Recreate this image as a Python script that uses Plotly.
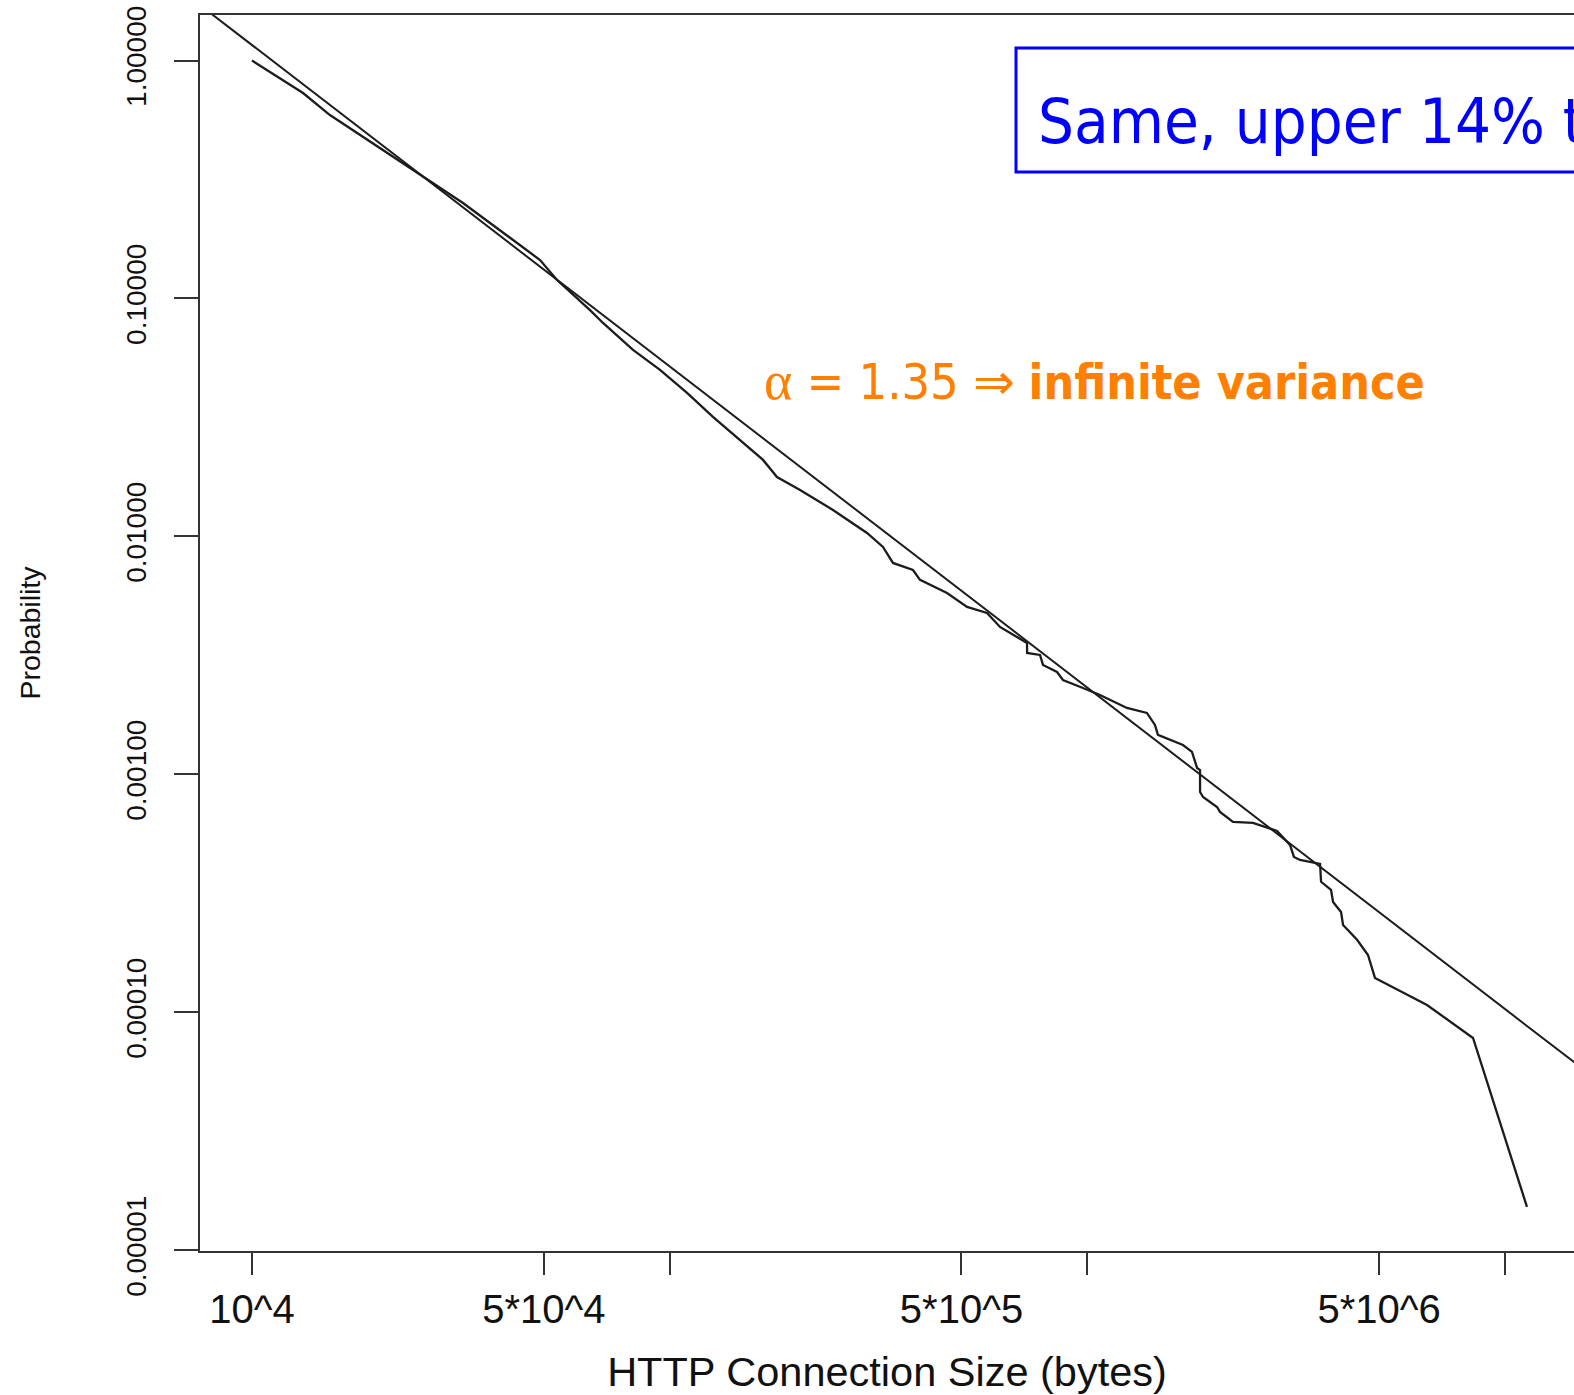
import plotly.graph_objects as go

# Upper tail of HTTP connection sizes: empirical complementary distribution
conn_size_bytes = [
    10000, 11670, 13250, 15370, 18140, 21410, 25680, 32010, 37150, 48950,
    53760, 64480, 69270, 81730, 94850, 110100, 127000, 147500, 167400, 180800,
    205300, 246200, 297000, 324300, 342700, 382600, 397800, 461700, 515600, 575500,
    618300, 717500, 718000, 770900, 783700, 846700, 875000, 977000, 1073000, 1245000,
    1390000, 1453000, 1477000, 1696000, 1782000, 1833000, 1863000, 1863500, 1894000, 2046000,
    2080000, 2234000, 2495000, 2848000, 3059000, 3127000, 3233000, 3611000, 3631000, 3836000,
    3879000, 4054000, 4099000, 4428000, 4703000, 4888000, 6512000, 8393000, 11300000,
]
tail_prob = [
    1.0, 0.844, 0.730, 0.590, 0.486, 0.401, 0.324, 0.252, 0.2076, 0.1451,
    0.1196, 0.0894, 0.0789, 0.0608, 0.0501, 0.0401, 0.0318, 0.0254, 0.02097, 0.01778,
    0.01568, 0.01292, 0.01034, 0.00903, 0.00774, 0.00723, 0.00657, 0.00579, 0.00506, 0.00477,
    0.004166, 0.003568, 0.003239, 0.003177, 0.002885, 0.002696, 0.002495, 0.002309, 0.002158, 0.001903,
    0.001813, 0.001614, 0.001466, 0.001330, 0.001243, 0.001065, 0.001044, 0.000844, 0.000804, 0.000730,
    0.000696, 0.000632, 0.000626, 0.000579, 0.000506, 0.000450, 0.000437, 0.000421, 0.000354, 0.000327,
    0.000291, 0.000264, 0.000233, 0.000202, 0.0001743, 0.0001396, 0.0001075, 0.0000781, 0.00001524,
]

# Fitted Pareto tail  P[X > x] = C * x^(-alpha)
ALPHA = 1.35
FIT_C = 2.917e5
fit_x = [7000, 20000000]
fit_y = [FIT_C * v ** (-ALPHA) for v in fit_x]

x_tick_vals = [1e4, 5e4, 1e5, 5e5, 1e6, 5e6, 1e7]
x_tick_text = ["10^4", "5*10^4", "", "5*10^5", "", "5*10^6", ""]
y_tick_vals = [1, 0.1, 0.01, 0.001, 0.0001, 0.00001]
y_tick_text = ["1.00000", "0.10000", "0.01000", "0.00100", "0.00010", "0.00001"]

W, H = 1574, 1395
ML, MR, MT, MB = 200, 0, 15, 144
PW, PH = W - ML - MR, H - MT - MB


def px_x(p):
    return (p - ML) / PW


def px_y(p):
    return (H - MB - p) / PH


INK = "#1c1c1c"
AXIS = "#333333"
SANS = "Liberation Sans, Arial, sans-serif"

fig = go.Figure()
fig.add_trace(go.Scatter(x=conn_size_bytes, y=tail_prob, mode="lines",
                         line=dict(color=INK, width=2.3), hoverinfo="skip"))
fig.add_trace(go.Scatter(x=fit_x, y=fit_y, mode="lines",
                         line=dict(color=INK, width=2), hoverinfo="skip"))

fig.update_layout(
    width=W, height=H,
    margin=dict(l=ML, r=MR, t=MT, b=MB, pad=0),
    paper_bgcolor="white", plot_bgcolor="white",
    showlegend=False,
)

fig.update_xaxes(
    type="log", range=[3.8755, 7.1657],
    tickvals=x_tick_vals, ticktext=x_tick_text,
    ticks="outside", ticklen=22, tickwidth=2, tickcolor=AXIS,
    showline=True, linecolor=AXIS, linewidth=2, mirror=True,
    showgrid=False, zeroline=False,
    tickfont=dict(family=SANS, size=40, color="#111"),
    title=dict(text="HTTP Connection Size (bytes)",
               font=dict(family=SANS, size=41.5, color="#111"),
               standoff=28),
)
fig.update_yaxes(
    type="log", range=[-5.0025, 0.1912],
    tickvals=y_tick_vals, ticktext=y_tick_text, tickangle=-90,
    ticks="outside", ticklen=24, tickwidth=2, tickcolor=AXIS,
    showline=True, linecolor=AXIS, linewidth=2, mirror=False,
    showgrid=False, zeroline=False,
    ticklabeloverflow="allow", ticklabelstandoff=17,
    tickfont=dict(family=SANS, size=28, color="#111"),
    title=dict(text="Probability",
               font=dict(family=SANS, size=28.5, color="#111"),
               standoff=72),
)

# Blue callout box running off the right edge
fig.add_shape(type="rect", xref="paper", yref="paper",
              x0=px_x(1016), x1=1.3, y0=px_y(172), y1=px_y(48),
              line=dict(color="#0000ff", width=3), fillcolor="rgba(0,0,0,0)")
fig.add_annotation(xref="paper", yref="paper", x=px_x(1036), y=px_y(121),
                   xanchor="left", yanchor="middle", showarrow=False,
                   text="Same, upper 14% tail",
                   font=dict(family="DejaVu Sans Condensed, DejaVu Sans, sans-serif", size=63, color="#0000ff"))

# Tail index note
fig.add_annotation(xref="paper", yref="paper", x=px_x(762), y=px_y(381),
                   xanchor="left", yanchor="middle", showarrow=False,
                   text=("<span style='font-family:Liberation Serif;font-size:54px'>α</span>"
                         "<span style='font-size:50px'> = 1.35 </span>"
                         "<span style='font-family:DejaVu Sans;font-size:50px'>⇒</span> "
                         "<b>infinite variance</b>"),
                   font=dict(family="DejaVu Sans Condensed, DejaVu Sans, sans-serif", size=48, color="#ff8000"))

fig.write_html("out.html")
